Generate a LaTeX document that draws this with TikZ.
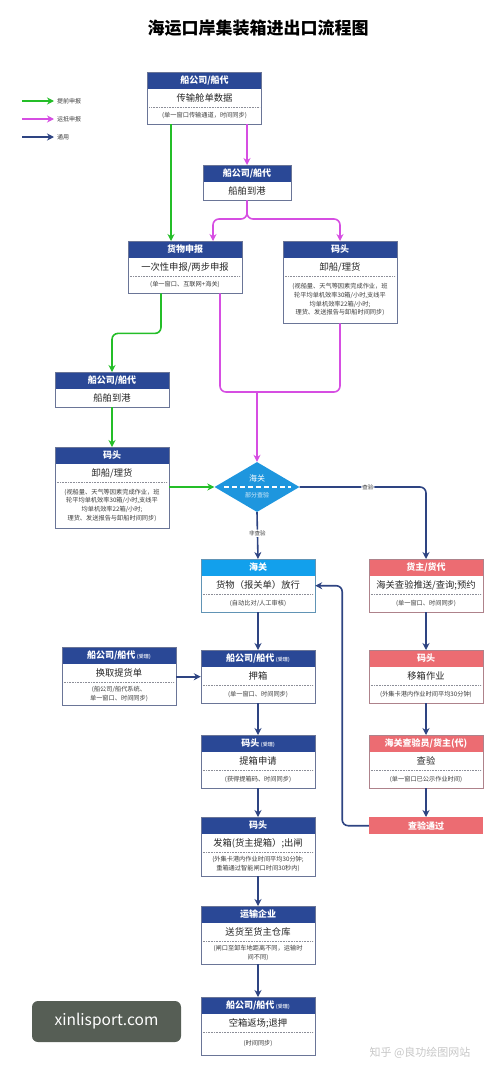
\documentclass[tikz,border=0pt]{standalone}
\usepackage{fontspec}
\setmainfont{Noto Sans CJK SC}
\usepackage{tikz}
\usetikzlibrary{arrows.meta,positioning,shapes.geometric,calc}
\definecolor{hdnavy}{RGB}{42,72,150}
\definecolor{lnnavy}{RGB}{46,68,130}
\definecolor{lngreen}{RGB}{36,190,40}
\definecolor{lnmagenta}{RGB}{214,78,226}
\definecolor{hdcyan}{RGB}{18,160,236}
\definecolor{dmblue}{RGB}{30,150,222}
\definecolor{hdpink}{RGB}{236,108,114}
\definecolor{frgray}{RGB}{140,142,152}
\definecolor{txgray}{RGB}{60,60,60}
\definecolor{wmgray}{RGB}{86,94,85}

% box with coloured header and main line
\newcommand{\flowbox}[7]{%
  \node[boxbg,#4] (#1) at (#2,#3) {};
  \fill[#5] (#1.north west) rectangle ([yshift=-17pt]#1.north east);
  \draw[boxline,draw=#5!35!frgray] (#1.north west) rectangle (#1.south east);
  \node[headtxt] (#1-head) at ([yshift=-8.5pt]#1.north) {#6};
  \node[maintxt] (#1-main) at ([yshift=-26pt]#1.north) {#7};
}
% dotted rule and small note under the main line
\newcommand{\flownote}[2]{%
  \draw[noteline] ([yshift=-35pt,xshift=2pt]#1.north west) -- ([yshift=-35pt,xshift=-2pt]#1.north east);
  \node[notetxt] (#1-note) at ($([yshift=-35pt]#1.north)!0.5!(#1.south)$) {#2};
}
\newcommand{\acc}{\,{\fontsize{5}{6}\selectfont\color{white!72!hdnavy}(受理)}}

\begin{document}
\begin{tikzpicture}[
  x=1pt,y=-1pt,
  boxbg/.style={anchor=north,fill=white,inner sep=0pt,minimum width=114pt},
  boxline/.style={draw=frgray,line width=0.6pt},
  headtxt/.style={text=white,font=\fontsize{9}{11}\selectfont\bfseries,inner sep=0pt},
  maintxt/.style={text=black!85,font=\fontsize{9.3}{11}\selectfont,inner sep=0pt},
  notetxt/.style={text=txgray,font=\fontsize{6.2}{8.6}\selectfont,align=center,inner sep=0pt},
  noteline/.style={densely dotted,frgray,line width=0.6pt},
  legtxt/.style={anchor=west,text=txgray,font=\fontsize{6}{7}\selectfont,inner sep=0pt},
  edgelbl/.style={fill=white,text=txgray,font=\fontsize{5.5}{6}\selectfont,inner sep=1pt},
  arr/.style={-{Stealth[length=7pt,width=7pt]},line width=1.6pt,rounded corners=6pt},
  greenarr/.style={arr,lngreen},
  magarr/.style={arr,lnmagenta},
  navyarr/.style={arr,lnnavy},
]
  \useasboundingbox (0,0) rectangle (501,1073);

  % title
  \node[font=\fontsize{17}{20}\selectfont\bfseries] (title) at (258,28) {海运口岸集装箱进出口流程图};

  % legend
  \node[legtxt] (lgpre) at (57,101) {提前申报};
  \node[legtxt] (lgarr) at (57,119) {运抵申报};
  \node[legtxt] (lgall) at (57,137) {通用};
  \draw[greenarr] ([xshift=-35pt]lgpre.west) -- ([xshift=-3pt]lgpre.west);
  \draw[magarr] ([xshift=-35pt]lgarr.west) -- ([xshift=-3pt]lgarr.west);
  \draw[navyarr] ([xshift=-35pt]lgall.west) -- ([xshift=-3pt]lgall.west);

  % upper part
  \flowbox{ship1}{204.5}{72}{minimum height=52pt}{hdnavy}{船公司/船代}{传输舱单数据}
  \flownote{ship1}{(单一窗口传输通道，时间同步)}
  \flowbox{ship2}{247}{165}{minimum height=35pt,minimum width=88pt}{hdnavy}{船公司/船代}{船舶到港}
  \flowbox{decl}{185}{241}{minimum height=52pt}{hdnavy}{货物申报}{一次性申报/两步申报}
  \flownote{decl}{(单一窗口、互联网+海关)}
  \flowbox{wharf1}{340}{241}{minimum height=82pt}{hdnavy}{码头}{卸船/理货}
  \flownote{wharf1}{(视船量、天气等因素完成作业，班\\轮平均单机效率30箱/小时,支线平\\均单机效率22箱/小时;\\理货、发送报告与卸船时间同步)}
  \flowbox{ship3}{112}{372}{minimum height=35pt}{hdnavy}{船公司/船代}{船舶到港}
  \flowbox{wharf2}{112}{447}{minimum height=81pt}{hdnavy}{码头}{卸船/理货}
  \flownote{wharf2}{(视船量、天气等因素完成作业，班\\轮平均单机效率30箱/小时,支线平\\均单机效率22箱/小时;\\理货、发送报告与卸船时间同步)}

  % customs decision
  \node[diamond,fill=dmblue,inner sep=0pt,minimum width=85pt,minimum height=50pt] (chk) at (257,487) {};
  \node[text=white,font=\fontsize{8}{9}\selectfont,inner sep=0pt] (chk-t) at (257,478) {海关};
  \node[text=white!85!dmblue,font=\fontsize{6}{7}\selectfont,inner sep=0pt] (chk-b) at (257,495) {部分查验};
  \draw[white,line width=1.2pt,dash pattern=on 5pt off 3pt] ([xshift=-33pt]chk.center) -- ([xshift=34pt]chk.center);

  % lower part
  \flowbox{cust}{258}{559}{minimum height=53pt}{hdcyan}{海关}{货物（报关单）放行}
  \flownote{cust}{(自动比对/人工审核)}
  \flowbox{owner}{426}{559}{minimum height=53pt}{hdpink}{货主/货代}{海关查验推送/查询;预约}
  \flownote{owner}{(单一窗口、时间同步)}
  \flowbox{bill}{119}{647}{minimum height=58pt}{hdnavy}{船公司/船代\acc}{换取提货单}
  \flownote{bill}{(船公司/船代系统、\\单一窗口、时间同步)}
  \flowbox{deposit}{258}{650}{minimum height=53pt}{hdnavy}{船公司/船代\acc}{押箱}
  \flownote{deposit}{(单一窗口、时间同步)}
  \flowbox{move}{426}{650}{minimum height=53pt}{hdpink}{码头}{移箱作业}
  \flownote{move}{(外集卡港内作业时间平均30分钟)}
  \flowbox{apply}{258}{735}{minimum height=53pt}{hdnavy}{码头\acc}{提箱申请}
  \flownote{apply}{(获得提箱码、时间同步)}
  \flowbox{inspect}{426}{735}{minimum height=53pt}{hdpink}{海关查验员/货主(代)}{查验}
  \flownote{inspect}{(单一窗口已公示作业时间)}
  \node[boxbg,fill=hdpink,minimum height=17pt,headtxt] (pass) at (426,817) {查验通过};
  \flowbox{gate}{258}{817}{minimum height=59pt}{hdnavy}{码头}{发箱(货主提箱）;出闸}
  \flownote{gate}{(外集卡港内作业时间平均30分钟;\\重箱通过智能闸口时间30秒内)}
  \flowbox{trans}{258}{906}{minimum height=58pt}{hdnavy}{运输企业}{送货至货主仓库}
  \flownote{trans}{(闸口至卸车地距离不同，运输时\\间不同)}
  \flowbox{retn}{258}{997}{minimum height=58pt}{hdnavy}{船公司/船代\acc}{空箱返场;退押}
  \flownote{retn}{(时间同步)}

  % connectors, upper part
  \coordinate (split) at (247,219);
  \coordinate (merge) at (257,392);
  \draw[greenarr] ([xshift=-33.5pt]ship1.south) -- ([xshift=-33.5pt]ship1.south |- decl.north);
  \draw[magarr] (ship1.south -| ship2.north) -- (ship2.north);
  \draw[magarr] (ship2.south) -- (split) -| ([xshift=28pt]decl.north);
  \draw[magarr] (ship2.south) -- (split) -| (wharf1.north);
  \draw[greenarr] ([xshift=-24pt]decl.south) -- ++(0,-40pt) -| (ship3.north);
  \draw[arr,lnmagenta,-] ([xshift=35pt]decl.south) |- (merge);
  \draw[arr,lnmagenta,-] (wharf1.south) |- (merge);
  \draw[magarr] (merge) -- (chk.north);
  \draw[greenarr] (ship3.south) -- (wharf2.north);
  \draw[greenarr] (wharf2.east |- chk.west) -- (chk.west);

  % connectors, lower part
  \draw[navyarr] (chk.east) -| node[edgelbl,pos=0.27] {查验} (owner.north);
  \draw[navyarr] (chk.south) -- node[edgelbl,pos=0.45] {非查验} (cust.north);
  \draw[navyarr] (cust.south) -- (deposit.north);
  \draw[navyarr] (bill.east |- deposit.west) -- (deposit.west);
  \draw[navyarr] (deposit.south) -- (apply.north);
  \draw[navyarr] (apply.south) -- (gate.north);
  \draw[navyarr] (gate.south) -- (trans.north);
  \draw[navyarr] (trans.south) -- (retn.north);
  \draw[navyarr] (owner.south) -- (move.north);
  \draw[navyarr] (move.south) -- (inspect.north);
  \draw[navyarr] (inspect.south) -- (pass.north);
  \draw[navyarr] (pass.west) -| ([xshift=27pt]cust.east) -- (cust.east);

  % watermarks
  \node[fill=wmgray,rounded corners=6pt,text=white,minimum width=149pt,minimum height=41pt,
        font=\fontsize{15.5}{18}\selectfont] (wm) at (106.5,1021.5) {xinlisport.com};
  \node[text=black!22,font=\fontsize{11}{13}\selectfont] (zh) at (420,1053) {知乎 @良功绘图网站};
\end{tikzpicture}
\end{document}
